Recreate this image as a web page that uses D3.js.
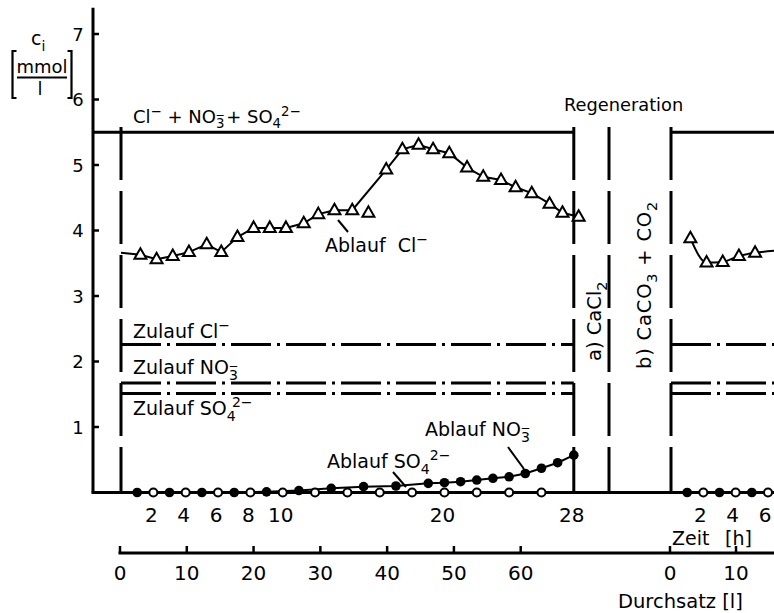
<!DOCTYPE html>
<html><head><meta charset="utf-8">
<script src="https://cdn.jsdelivr.net/npm/d3@7"></script>
<style>
html,body{margin:0;padding:0;background:#fff;}
text{font-family:"DejaVu Sans",sans-serif;fill:#000;white-space:pre;}
</style>
</head><body>
<svg id="c" width="774" height="613"></svg>
<script>
// ---------- data ----------
const yTicks = [1,2,3,4,5,6,7];
const timeTicks1 = [2,4,6,8,10,20,28];
const timeTicks2 = [2,4,6];
const volTicks1 = [0,10,20,30,40,50,60];
const volTicks2 = [0,10];

// Ablauf Cl- (effluent chloride), run 1 (time in h)
const clTime = [0,1.2,2.2,3.2,4.2,5.3,6.2,7.2,8.2,9.2,10.2,11.3,12.2,13.2,14.3,16.4,17.4,18.4,19.3,20.3,21.4,22.4,23.5,24.4,25.4,26.5,27.3,28.3];
const clOut  = [3.66,3.63,3.56,3.61,3.67,3.79,3.67,3.90,4.04,4.04,4.04,4.11,4.25,4.31,4.31,4.93,5.24,5.31,5.24,5.18,4.96,4.82,4.77,4.66,4.57,4.41,4.27,4.21];
const clStrayTime = [15.3];
const clStrayOut  = [4.27];
// Ablauf Cl-, run 2
const clTime2 = [1.2,2.2,3.2,4.2,5.2,6.4];
const clOut2  = [3.88,3.51,3.52,3.61,3.66,3.69];

// Ablauf NO3- (filled)
const no3Time = [1,3,5,7,9,11,13,15,17,19,20,21,22,23,24,25,26,27,28];
const no3Out  = [0,0,0,0,0.01,0.03,0.064,0.089,0.099,0.14,0.15,0.165,0.19,0.217,0.24,0.29,0.37,0.455,0.57];
const no3Time2 = [1,3,5];
const no3Out2  = [0,0,0];
// Ablauf SO4 2- (open)
const so4Time = [2,4,6,8,10,12,14,16,18,20,22,24,26];
const so4Out  = [0,0,0,0,0,0,0,0,0,0,0,0,0];
const so4Time2 = [2,4,6];
const so4Out2  = [0,0,0];

// Zulauf (feed) levels
const feedTotal = 5.5;
const feedCl = 2.26;
const feedNO3 = 1.67;
const feedSO4 = 1.51;

// ---------- scales ----------
const W = 774, H = 613;
const svg = d3.select('#c');
svg.append('rect').attr('width',W).attr('height',H).attr('fill','#fff');
const y   = d3.scaleLinear().domain([0,7]).range([492.5,34]);
const xT  = d3.scaleLinear().domain([0,28]).range([121,573.8]);
const xT2 = d3.scaleLinear().domain([0,6]).range([671,768]);
const xV  = d3.scaleLinear().domain([0,60]).range([120,520.7]);
const xV2 = d3.scaleLinear().domain([0,10]).range([670,736]);
const axisX = 93, regenX = 609, rightEdge = W;

const black = '#000';
function hline(x1,x2,v,w,dash){
  const l = svg.append('line').attr('x1',x1).attr('x2',x2).attr('y1',y(v)).attr('y2',y(v))
    .attr('stroke',black).attr('stroke-width',w);
  if(dash) l.attr('stroke-dasharray',dash);
  return l;
}
function vdash(x){
  svg.append('line').attr('x1',x).attr('x2',x).attr('y1',y(5.58)).attr('y2',y(0))
    .attr('stroke',black).attr('stroke-width',3).attr('stroke-dasharray','53,11');
}
function chem(g,x,yy,parts,fs,anchor){
  const t = g.append('text').attr('x',x).attr('y',yy).attr('font-size',fs);
  if(anchor) t.attr('text-anchor',anchor);
  let level = 0;
  parts.forEach(p=>{
    const [txt,kind,dx] = p;
    const target = kind==='sub'?0.3*fs:(kind==='sup'?-0.4*fs:0);
    const ts = t.append('tspan').text(txt).attr('dy',target-level);
    level = target;
    if(kind!=='n') ts.attr('font-size',fs*0.74);
    if(dx) ts.attr('dx',dx*fs);
  });
  return t;
}
const N3 = '3\u0305'; // subscript 3 with the charge bar above it

// ---------- y axis ----------
svg.append('line').attr('x1',axisX).attr('x2',axisX).attr('y1',y(7.4)).attr('y2',y(0))
  .attr('stroke',black).attr('stroke-width',3);
svg.selectAll('.yt').data(yTicks).enter().append('line')
  .attr('x1',axisX).attr('x2',axisX+6).attr('y1',d=>y(d)).attr('y2',d=>y(d))
  .attr('stroke',black).attr('stroke-width',2.5);
svg.selectAll('.yl').data(yTicks).enter().append('text')
  .attr('x',axisX-15).attr('y',d=>y(d)+6.5).attr('text-anchor','middle')
  .attr('font-size',18).text(d=>d);
// baseline
hline(axisX-1.5,rightEdge,0,3);

// y label c_i [mmol/l]
chem(svg,31,45,[['c','n'],['i','sub']],19);
svg.append('text').attr('x',42).attr('y',73).attr('font-size',18).attr('text-anchor','middle').text('mmol');
svg.append('line').attr('x1',17).attr('x2',67).attr('y1',77.5).attr('y2',77.5).attr('stroke',black).attr('stroke-width',2);
svg.append('text').attr('x',40).attr('y',95).attr('font-size',18).attr('text-anchor','middle').text('l');
svg.append('path').attr('d','M16.5,51 H12.5 V98 H16.5').attr('fill','none').attr('stroke',black).attr('stroke-width',2.2);
svg.append('path').attr('d','M67.5,51 H71.5 V98 H67.5').attr('fill','none').attr('stroke',black).attr('stroke-width',2.2);

// ---------- structural lines ----------
hline(axisX,xT(28),feedTotal,3);
hline(xT2(0),rightEdge,feedTotal,3);
const dd = '40,6,3,6';
hline(xT(0),xT(28),feedCl,3,dd);
hline(xT(0),xT(28),feedNO3,3,dd);
hline(xT(0),xT(28),feedSO4,3,dd);
hline(xT2(0),rightEdge,feedCl,3,dd);
hline(xT2(0),rightEdge,feedNO3,3,dd);
hline(xT2(0),rightEdge,feedSO4,3,dd);
vdash(xT(0)); vdash(xT(28)); vdash(regenX); vdash(xT2(0));

// ---------- bottom axes ----------
const axY = 553;
svg.append('line').attr('x1',xV(0)-1.5).attr('x2',rightEdge).attr('y1',axY).attr('y2',axY)
  .attr('stroke',black).attr('stroke-width',3);
const vt = volTicks1.map(d=>xV(d)).concat(volTicks2.map(d=>xV2(d)));
svg.selectAll('.vt').data(vt).enter().append('line')
  .attr('x1',d=>d).attr('x2',d=>d).attr('y1',axY).attr('y2',axY-7)
  .attr('stroke',black).attr('stroke-width',2.5);
svg.selectAll('.vl1').data(volTicks1).enter().append('text')
  .attr('x',d=>xV(d)).attr('y',580).attr('text-anchor','middle').attr('font-size',20).text(d=>d);
svg.selectAll('.vl2').data(volTicks2).enter().append('text')
  .attr('x',d=>xV2(d)).attr('y',580).attr('text-anchor','middle').attr('font-size',20).text(d=>d);
svg.selectAll('.tl1').data(timeTicks1).enter().append('text')
  .attr('x',d=>xT(d)-2).attr('y',522).attr('text-anchor','middle').attr('font-size',20).text(d=>d);
svg.selectAll('.tl2').data(timeTicks2).enter().append('text')
  .attr('x',d=>xT2(d)-3).attr('y',522).attr('text-anchor','middle').attr('font-size',20).text(d=>d);
svg.append('text').attr('x',672).attr('y',545).attr('font-size',19).text('Zeit');
svg.append('text').attr('x',725).attr('y',545).attr('font-size',19).text('[h]');
svg.append('text').attr('x',618).attr('y',608).attr('font-size',19.5).text('Durchsatz [l]');

// ---------- data series ----------
const tri = 'M0,-6.5L6,4L-6,4Z';
// Cl run 1
const lineCl = d3.line().x(d=>xT(d[0])).y(d=>y(d[1]));
const clPts = clTime.map((t,i)=>[t,clOut[i]]);
svg.append('path').attr('d',lineCl(clPts)).attr('fill','none').attr('stroke',black).attr('stroke-width',2);
svg.selectAll('.tr1').data(clPts.slice(1).concat(clStrayTime.map((t,i)=>[t,clStrayOut[i]]))).enter().append('path')
  .attr('d',tri).attr('transform',d=>`translate(${xT(d[0])},${y(d[1])})`)
  .attr('fill','#fff').attr('stroke',black).attr('stroke-width',2);
// Cl run 2
const clPts2 = clTime2.map((t,i)=>[t,clOut2[i]]);
svg.append('path').attr('d',d3.line().curve(d3.curveMonotoneX).x(d=>xT2(d[0])).y(d=>y(d[1]))(clPts2))
  .attr('fill','none').attr('stroke',black).attr('stroke-width',2);
svg.selectAll('.tr2').data(clPts2.slice(0,-1)).enter().append('path')
  .attr('d',tri).attr('transform',d=>`translate(${xT2(d[0])},${y(d[1])})`)
  .attr('fill','#fff').attr('stroke',black).attr('stroke-width',2);

// NO3 line + filled dots
const no3Pts = no3Time.map((t,i)=>[t,no3Out[i]]);
svg.append('path').attr('d',d3.line().x(d=>xT(d[0])).y(d=>y(d[1]))([[0,0]].concat(no3Pts)))
  .attr('fill','none').attr('stroke',black).attr('stroke-width',2);
// SO4 open circles
const so4Pts = so4Time.map((t,i)=>[t,so4Out[i]]);
svg.selectAll('.so4').data(so4Pts).enter().append('circle')
  .attr('cx',d=>xT(d[0])).attr('cy',d=>y(d[1])).attr('r',4)
  .attr('fill','#fff').attr('stroke',black).attr('stroke-width',2);
svg.selectAll('.no3').data(no3Pts).enter().append('circle')
  .attr('cx',d=>xT(d[0])).attr('cy',d=>y(d[1])).attr('r',4.8).attr('fill',black);
svg.selectAll('.so42').data(so4Time2.map((t,i)=>[t,so4Out2[i]])).enter().append('circle')
  .attr('cx',d=>xT2(d[0])).attr('cy',d=>y(d[1])).attr('r',4)
  .attr('fill','#fff').attr('stroke',black).attr('stroke-width',2);
svg.selectAll('.no32').data(no3Time2.map((t,i)=>[t,no3Out2[i]])).enter().append('circle')
  .attr('cx',d=>xT2(d[0])).attr('cy',d=>y(d[1])).attr('r',4.8).attr('fill',black);

// ---------- labels ----------
chem(svg,133,123,[['Cl','n'],['\u2212','sup'],[' + NO','n'],[N3,'sub'],['+ SO','n',0.1],['4','sub'],['2\u2212','sup']],18);
chem(svg,133,338,[['Zulauf Cl','n'],['\u2212','sup']],19);
chem(svg,133,374,[['Zulauf NO','n'],[N3,'sub']],19);
chem(svg,133,415,[['Zulauf SO','n'],['4','sub'],['2\u2212','sup',-0.2]],19);
chem(svg,325,252,[['Ablauf  Cl','n'],['\u2212','sup']],19);
chem(svg,425,436,[['Ablauf NO','n'],[N3,'sub']],19);
chem(svg,327,468,[['Ablauf SO','n'],['4','sub'],['2\u2212','sup']],19);
svg.append('text').attr('x',564).attr('y',111).attr('font-size',17.8).text('Regeneration');
// leader lines
const lead = [[338,220,348,232],[508,447,524,469],[393,472,406,487]];
svg.selectAll('.ld').data(lead).enter().append('line')
  .attr('x1',d=>d[0]).attr('y1',d=>d[1]).attr('x2',d=>d[2]).attr('y2',d=>d[3])
  .attr('stroke',black).attr('stroke-width',2);
// rotated regeneration labels
const ga = svg.append('g').attr('transform','translate(601,361) rotate(-90)');
chem(ga,0,0,[['a) CaCl','n'],['2','sub']],19.5);
const gb = svg.append('g').attr('transform','translate(651,369) rotate(-90)');
chem(gb,0,0,[['b) CaCO','n'],['3','sub'],[' + CO','n'],['2','sub']],19.5).attr('letter-spacing',0.8);
</script>
</body></html>
